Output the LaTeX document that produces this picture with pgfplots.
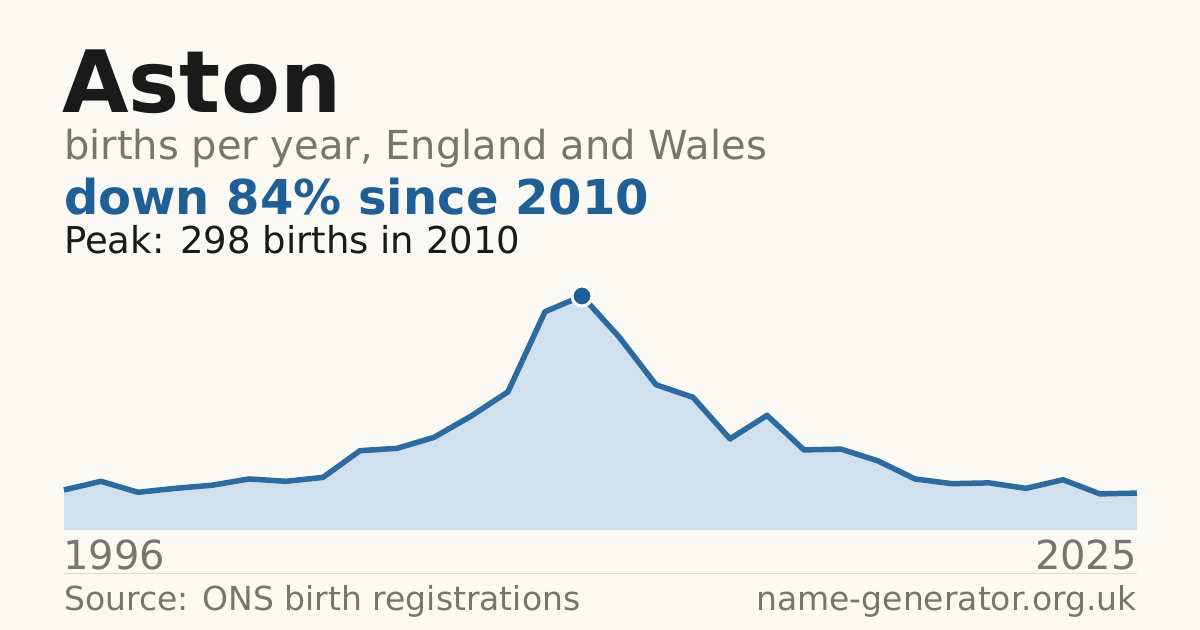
\documentclass[border=0pt]{standalone}
\usepackage{pgfplots}
\pgfplotsset{compat=1.18}
\usepackage{fontspec}
\setmainfont{DejaVu Sans}

\definecolor{bg}{HTML}{FAF9F4}
\definecolor{ink}{HTML}{1A1A1A}
\definecolor{muted}{HTML}{79746D}
\definecolor{accent}{HTML}{1F5F96}
\definecolor{line}{HTML}{2D6A9F}
\definecolor{area}{HTML}{D0E0EF}
\definecolor{rule}{HTML}{DDDAD3}

\pgfplotstableread{
year births
1996 51
1997 62
1998 48
1999 53
2000 57
2001 65
2002 62
2003 67
2004 101
2005 104
2006 118
2007 145
2008 176
2009 278
2010 298
2011 246
2012 185
2013 169
2014 116
2015 146
2016 102
2017 103
2018 88
2019 65
2020 59
2021 60
2022 53
2023 64
2024 46
2025 47
}\births

\begin{document}
\begin{tikzpicture}
% canvas, 1 bp = 1 px; y measured from the bottom
\fill[bg] (0,0) rectangle (1200bp,630bp);

% headings
\node[anchor=base west, inner sep=0, text=ink, font=\fontsize{86bp}{90bp}\selectfont\bfseries] at (62bp,630bp-113bp) {Aston};
\node[anchor=base west, inner sep=0, text=muted, font=\fontsize{40bp}{42bp}\selectfont] at (64bp,630bp-160bp) {births per year, England and Wales};
\node[anchor=base west, inner sep=0, text=accent, font=\fontsize{48bp}{50bp}\selectfont\bfseries] at (64bp,630bp-215bp) {down 84\% since 2010};
\node[anchor=base west, inner sep=0, text=ink, font=\fontsize{37bp}{39bp}\selectfont] at (64bp,630bp-254bp) {Peak: 298 births in 2010};

\begin{axis}[
    at={(64bp,100bp)}, anchor=south west,
    scale only axis,
    width=1073bp, height=234bp,
    xmin=1996, xmax=2025,
    ymin=0, ymax=298,
    hide axis,
    clip=false,
    ]

    % area under the curve
    \addplot[fill=area, draw=none] table[x=year, y=births] {\births} \closedcycle;

    % line
    \addplot[line, line width=5.5bp, line join=round] table[x=year, y=births] {\births};

    % peak marker
    \addplot[only marks, mark=*, mark size=10bp, mark options={fill=accent, draw=white, line width=3bp}] coordinates {(2010,298)};

\end{axis}

% year labels
\node[anchor=base west, inner sep=0, text=muted, font=\fontsize{40bp}{42bp}\selectfont] at (63bp,630bp-570bp) {1996};
\node[anchor=base east, inner sep=0, text=muted, font=\fontsize{40bp}{42bp}\selectfont] at (1137bp,630bp-570bp) {2025};

% footer
\draw[rule, line width=1bp] (64bp,630bp-574bp) -- (1137bp,630bp-574bp);
\node[anchor=base west, inner sep=0, text=muted, font=\fontsize{33bp}{35bp}\selectfont] at (64bp,630bp-610bp) {Source: ONS birth registrations};
\node[anchor=base east, inner sep=0, text=muted, font=\fontsize{33bp}{35bp}\selectfont] at (1137bp,630bp-610bp) {name-generator.org.uk};
\end{tikzpicture}
\end{document}
